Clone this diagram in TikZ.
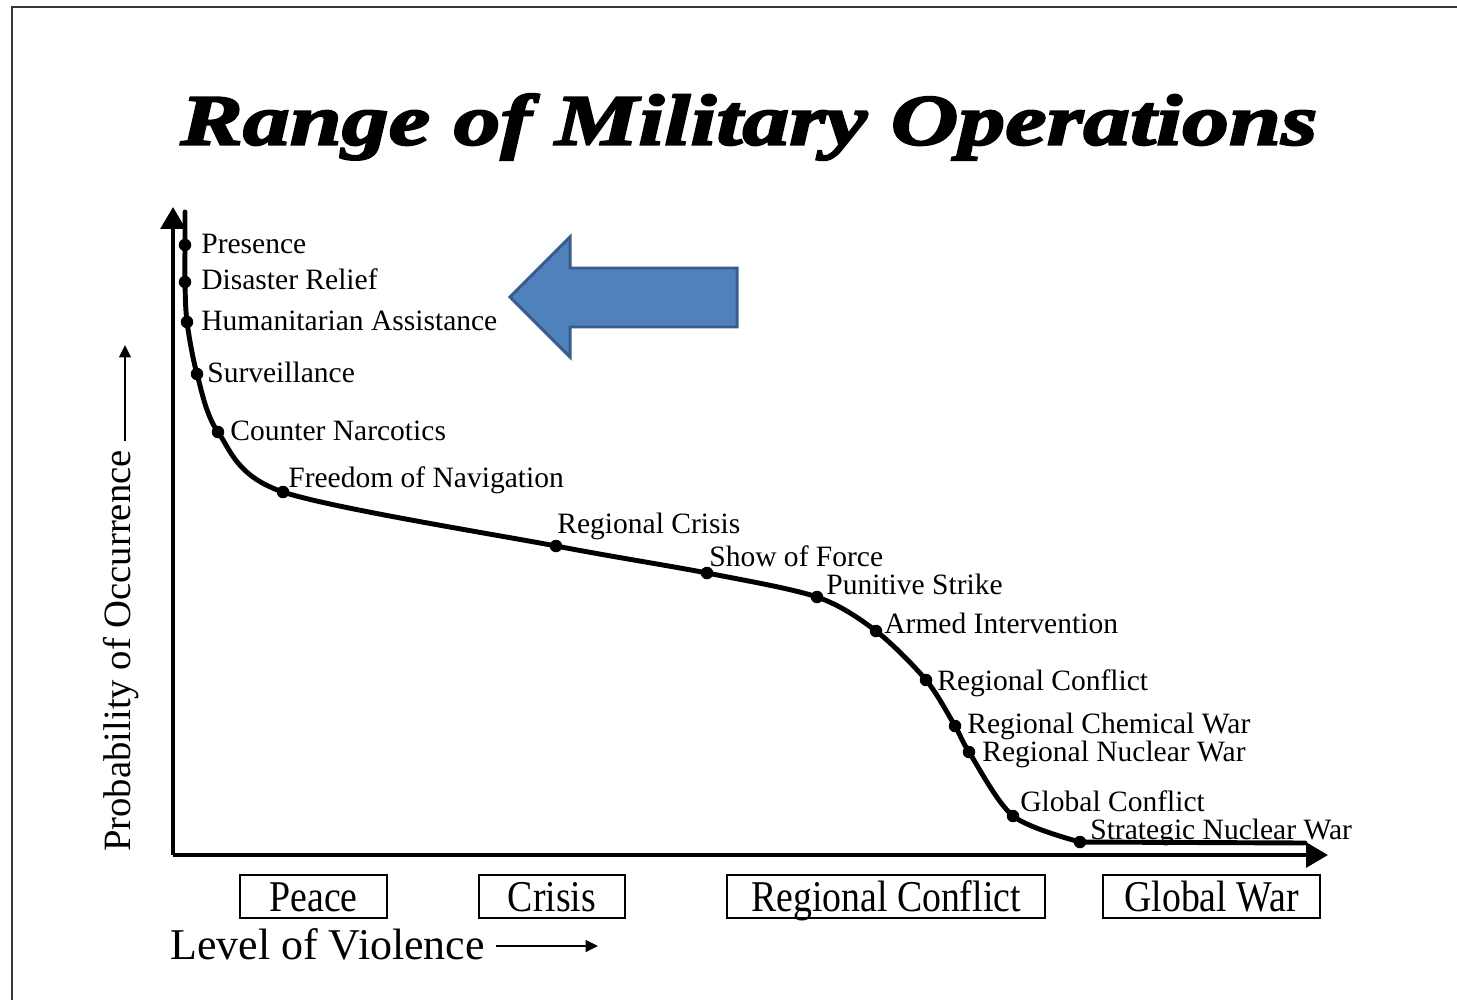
\documentclass[tikz,border=0pt]{standalone}
\usepackage{fontspec}
\setmainfont{Liberation Serif}
\newfontfamily\titlefont[FakeStretch=1.3,BoldItalicFeatures={FakeBold=3}]{Liberation Serif}
\newfontfamily\phasefont[FakeStretch=0.86]{Liberation Serif}
\usetikzlibrary{arrows.meta,positioning}
\definecolor{arrowblue}{RGB}{79,129,189}
\definecolor{arrowedge}{RGB}{56,93,138}
\definecolor{framegray}{RGB}{55,55,55}
\tikzstyle{dot} = [circle, fill=black, inner sep=0pt, minimum size=2.5mm]
\tikzstyle{lbl} = [anchor=west, inner sep=0pt, text height=2ex, text depth=0pt, font=\fontsize{16.8}{18}\selectfont]
\tikzstyle{phase} = [rectangle, draw=black, line width=1.1pt, minimum height=8.6mm, inner sep=0pt, text height=18pt, text depth=1pt, font=\phasefont\fontsize{25}{27}\selectfont]
\tikzstyle{axis} = [line width=2.4pt, -{Triangle[length=12.5pt,width=14pt]}]
\tikzstyle{curve} = [line width=2.8pt, line join=round, line cap=round]
\tikzstyle{arrow} = [line width=1.6pt, -{Triangle[length=7pt,width=6.5pt]}]
\tikzstyle{axislbl} = [inner sep=0pt, font=\fontsize{22}{24}\selectfont]
\begin{document}
\begin{tikzpicture}[x=0.2mm, y=-0.2mm]
\useasboundingbox (0,0) rectangle (1457,1000);
\draw[framegray, line width=1.7pt] (12,1000) -- (12,7) -- (1457,7);
\node (title) at (749,127) {\titlefont\bfseries\itshape\fontsize{41}{44}\selectfont Range of Military Operations};
% axes
\coordinate (origin) at (173,855);
\coordinate (ytip) at (173,207);
\coordinate (xtip) at (1328,855);
\draw[axis] (origin) -- (ytip);
\draw[axis] (origin) -- (xtip);
% points on the curve
\coordinate (top) at (185,212);
\node (pres) [dot] at (185,245) {};
\node (relief) [dot] at (185,282) {};
\node (human) [dot] at (187,322) {};
\node (surv) [dot] at (197,374) {};
\node (narc) [dot] at (218,432) {};
\node (nav) [dot] at (283,492) {};
\node (crisis) [dot] at (556,546) {};
\node (show) [dot] at (707,573) {};
\node (strike) [dot] at (817,597) {};
\node (armed) [dot] at (876,631) {};
\node (regconf) [dot] at (926,680) {};
\node (chem) [dot] at (955,726) {};
\node (nuke) [dot] at (969,752) {};
\node (global) [dot] at (1013,816) {};
\node (strat) [dot] at (1080,842) {};
\coordinate (tail) at (1305,843);
\draw[curve] plot[smooth, tension=.5] coordinates {(top) (pres.center) (relief.center) (human.center) (surv.center) (narc.center) (nav.center) (crisis.center) (show.center) (strike.center) (armed.center) (regconf.center) (chem.center) (nuke.center) (global.center) (strat.center)} -- (tail);
% labels
\node (presL) [lbl] at (201,245) {Presence};
\node (reliefL) [lbl] at (201,281) {Disaster Relief};
\node (humanL) [lbl] at (201,322) {Humanitarian Assistance};
\node (survL) [lbl] at (207,374) {Surveillance};
\node (narcL) [lbl] at (230,432) {Counter Narcotics};
\node (navL) [lbl] at (288,479) {Freedom of Navigation};
\node (crisisL) [lbl] at (557,525) {Regional Crisis};
\node (showL) [lbl] at (709,558) {Show of Force};
\node (strikeL) [lbl] at (826,586) {Punitive Strike};
\node (armedL) [lbl] at (884,625) {Armed Intervention};
\node (regconfL) [lbl] at (937,682) {Regional Conflict};
\node (chemL) [lbl] at (967,725) {Regional Chemical War};
\node (nukeL) [lbl] at (982,753) {Regional Nuclear War};
\node (globalL) [lbl] at (1020,803) {Global Conflict};
\node (stratL) [lbl] at (1090,831) {Strategic Nuclear War};
% phases
\node (peace) [phase, minimum width=29.4mm] at (313.5,896.5) {Peace};
\node (crisisB) [phase, minimum width=29.2mm] at (552,896.5) {Crisis};
\node (regional) [phase, minimum width=63.6mm] at (886,896.5) {Regional Conflict};
\node (war) [phase, minimum width=43.4mm] at (1211.5,896.5) {Global War};
% axis names
\node (level) [axislbl, anchor=west, font=\fontsize{25}{27}\selectfont] at (170,944) {Level of Violence};
\coordinate (levelTip) at (598,946);
\draw[arrow] ([xshift=2.2mm]level.east |- levelTip) -- (levelTip);
\node (prob) [axislbl, rotate=90] at (121,651) {Probability of Occurrence};
\coordinate (probTip) at (125,345);
\draw[arrow] ([yshift=1.8mm]prob.east -| probTip) -- (probTip);
% blue arrow
\draw[arrowedge, fill=arrowblue, line width=1.7pt, line join=miter] (510,297) -- (570,237) -- (570,268) -- (737,268) -- (737,327) -- (570,327) -- (570,357) -- cycle;
\end{tikzpicture}
\end{document}
